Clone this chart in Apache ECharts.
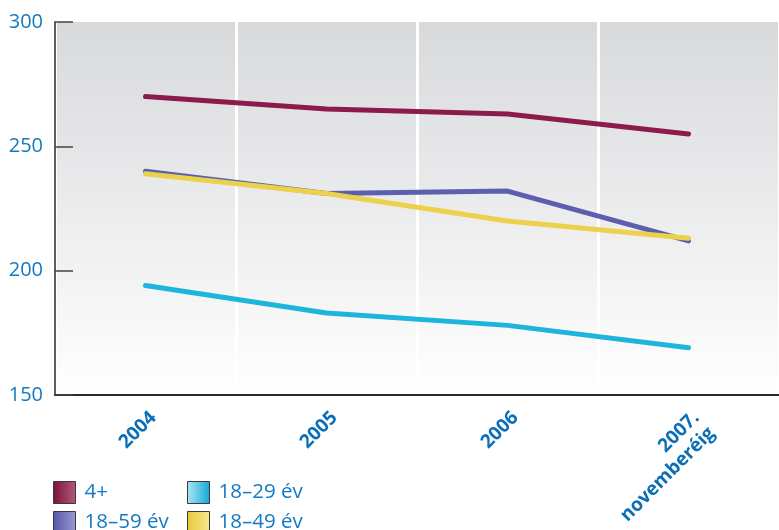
<!DOCTYPE html>
<html><head><meta charset="utf-8">
<script src="https://cdn.jsdelivr.net/npm/echarts@6/dist/echarts.min.js"></script>
<style>html,body{margin:0;padding:0;background:#fff}#c{width:779px;height:530px}</style>
</head><body><div id="c"></div>
<script>
var categories = ['2004', '2005', '2006', '2007.\nnovemberéig'];
var seriesNames = ['4+', '18–59 év', '18–29 év', '18–49 év'];
var s4plus = [270, 265, 263, 255];
var s1859 = [240, 231, 232, 212];
var s1829 = [194, 183, 178, 169];
var s1849 = [239, 231, 220, 213];
var yTicks = [150, 200, 250, 300];

var colors = {'4+': '#8c1a4b', '18–59 év': '#5b5fae', '18–29 év': '#1db5dd', '18–49 év': '#ecd14c'};
var iconGrad = {
  '4+': ['#7a1038', '#b45a7c'],
  '18–59 év': ['#5256a6', '#9a9cd2'],
  '18–29 év': ['#aee6f5', '#12a9d6'],
  '18–49 év': ['#e9c93a', '#f6e790']
};
function grad(n) {
  return new echarts.graphic.LinearGradient(0, 0, 1, 0, [
    {offset: 0, color: iconGrad[n][0]}, {offset: 1, color: iconGrad[n][1]}]);
}
var dataMap = {'4+': s4plus, '18–59 év': s1859, '18–29 év': s1829, '18–49 év': s1849};
var blue = '#1479c2';

function mkSeries(n) {
  return {
    name: n, type: 'line', data: dataMap[n], showSymbol: false, symbol: 'none',
    lineStyle: {color: colors[n], width: 5, cap: 'round', join: 'round'},
    itemStyle: {color: grad(n), borderColor: '#3a3a3a', borderWidth: 1},
    emphasis: {disabled: true}
  };
}
function legendItem(n) {
  return {name: n, itemStyle: {color: grad(n), borderColor: '#3a3a3a', borderWidth: 1}};
}
var legendText = {color: blue, fontSize: 20.5, fontFamily: 'Open Sans', lineHeight: 22, padding: [0, 0, 0, 4]};

var chart = echarts.init(document.getElementById('c'), null, {renderer: 'canvas'});
chart.setOption({
  animation: false,
  backgroundColor: '#fff',
  grid: {left: 55, top: 22, bottom: 135, right: -5, show: true, borderWidth: 0,
    backgroundColor: new echarts.graphic.LinearGradient(0, 0, 0, 1, [
      {offset: 0, color: '#d8d9db'}, {offset: 1, color: '#ffffff'}])},
  legend: [
    {orient: 'vertical', left: 53, top: 481, height: 120, padding: 0, itemWidth: 22, itemHeight: 22, itemGap: 7,
     icon: 'rect', data: [legendItem('4+'), legendItem('18–59 év')], textStyle: legendText, selectedMode: false},
    {orient: 'vertical', left: 187, top: 481, height: 120, padding: 0, itemWidth: 22, itemHeight: 22, itemGap: 7,
     icon: 'rect', data: [legendItem('18–29 év'), legendItem('18–49 év')], textStyle: legendText, selectedMode: false}
  ],
  xAxis: {
    type: 'category', data: categories, boundaryGap: true,
    axisLine: {lineStyle: {color: '#2a2a2a', width: 2}},
    axisTick: {show: false},
    splitLine: {show: true, lineStyle: {color: '#ffffff', width: 3}},
    axisLabel: {rotate: 45, margin: 12, verticalAlign: 'top', color: '#0b6fb8', fontSize: 19, fontWeight: 'bold',
      fontFamily: 'Open Sans', lineHeight: 22, interval: 0}
  },
  yAxis: {
    type: 'value', min: 150, max: 300, interval: 50,
    axisLine: {show: true, lineStyle: {color: '#2a2a2a', width: 1.5}},
    axisTick: {show: true, inside: true, length: 18, lineStyle: {color: '#444', width: 1.5}},
    splitLine: {show: false},
    axisLabel: {margin: 12, color: blue, fontSize: 20, fontFamily: 'Open Sans',
      formatter: function (v) { return yTicks.indexOf(v) >= 0 ? String(v) : ''; }}
  },
  series: [mkSeries('4+'), mkSeries('18–59 év'), mkSeries('18–29 év'), mkSeries('18–49 év')]
});
</script></body></html>
